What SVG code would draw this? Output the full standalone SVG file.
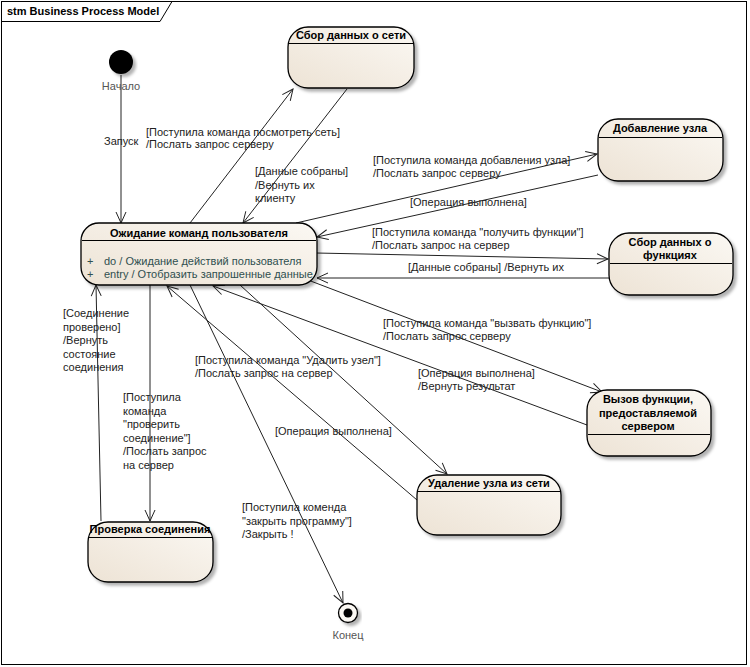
<svg xmlns="http://www.w3.org/2000/svg" width="750" height="667" viewBox="0 0 750 667">
<style>
text{font-family:"Liberation Sans",Arial,sans-serif;font-size:11px;fill:#222}
.t{font-weight:bold;fill:#000;text-anchor:middle}
.lbl{fill:#222}
.attr{fill:#2f4f4f}
.n{fill:url(#g);stroke:#000;stroke-width:1.3;filter:url(#sh)}
.sep{stroke:#000;stroke-width:1}
.c{fill:none;stroke:#222;stroke-width:1;marker-end:url(#a)}
.ps{fill:#555;text-anchor:middle}
</style>
<defs>
<linearGradient id="g" x1="0" y1="1" x2="1" y2="0">
<stop offset="0" stop-color="#EDE3D5"/>
<stop offset="1" stop-color="#FBF8F3"/>
</linearGradient>
<filter id="sh" x="-10%" y="-10%" width="130%" height="140%">
<feDropShadow dx="3" dy="3" stdDeviation="1.5" flood-color="#000" flood-opacity="0.3"/>
</filter>
<marker id="a" markerWidth="14" markerHeight="12" refX="12" refY="6" orient="auto" markerUnits="userSpaceOnUse">
<path d="M1,1 L12,6 L1,11" fill="none" stroke="#222" stroke-width="1"/>
</marker>
</defs>
<rect x="0" y="0" width="750" height="667" fill="#fff"/>
<g id="frame">
<rect x="1.5" y="1.5" width="745" height="663" fill="none" stroke="#000" stroke-width="1"/>
<path d="M1.5,21.5 L160,21.5 L172,1.5" fill="none" stroke="#000" stroke-width="1"/>
<text x="7" y="15" style="font-weight:bold;fill:#000">stm Business Process Model</text>
</g>
<g id="connectors">
<line class="c" x1="121" y1="75" x2="121" y2="223"/>
<line class="c" x1="190" y1="223" x2="293" y2="89"/>
<line class="c" x1="347" y1="89" x2="243" y2="223"/>
<line class="c" x1="296" y1="223" x2="597" y2="154"/>
<line class="c" x1="598" y1="175" x2="317" y2="237"/>
<line class="c" x1="316" y1="253" x2="608" y2="259"/>
<line class="c" x1="609" y1="278" x2="317" y2="278"/>
<line class="c" x1="308" y1="280" x2="602" y2="392"/>
<line class="c" x1="587" y1="425" x2="213" y2="286"/>
<line class="c" x1="240" y1="285" x2="447" y2="474"/>
<line class="c" x1="417" y1="500" x2="167" y2="286"/>
<line class="c" x1="150" y1="285" x2="150" y2="521"/>
<line class="c" x1="101" y1="521" x2="96" y2="285"/>
<line class="c" x1="190" y1="285" x2="343" y2="603"/>
<text x="104" y="145">Запуск</text>
<text x="146" y="136">[Поступила команда посмотреть сеть]</text>
<text x="146" y="148">/Послать запрос серверу</text>
<text x="255" y="175">[Данные собраны]</text>
<text x="255" y="189">/Вернуть их</text>
<text x="255" y="202">клиенту</text>
<text x="373" y="164">[Поступила команда добавления узла]</text>
<text x="373" y="177">/Послать запрос серверу</text>
<text x="410" y="206">[Операция выполнена]</text>
<text x="372" y="236">[Поступила команда "получить функции"]</text>
<text x="372" y="249">/Послать запрос на сервер</text>
<text x="408" y="271">[Данные собраны] /Вернуть их</text>
<text x="383" y="327">[Поступила команда "вызвать функцию"]</text>
<text x="383" y="340">/Послать запрос серверу</text>
<text x="418" y="377">[Операция выполнена]</text>
<text x="418" y="390">/Вернуть результат</text>
<text x="195" y="364">[Поступила команда "Удалить узел"]</text>
<text x="195" y="377">/Послать запрос на сервер</text>
<text x="275" y="435">[Операция выполнена]</text>
<text x="123" y="401">[Поступила</text>
<text x="123" y="414.5">команда</text>
<text x="123" y="428">"проверить</text>
<text x="123" y="441.5">соединение"]</text>
<text x="123" y="455">/Послать запрос</text>
<text x="123" y="468.5">на сервер</text>
<text x="63" y="317">[Соединение</text>
<text x="63" y="330.5">проверено]</text>
<text x="63" y="344">/Вернуть</text>
<text x="63" y="357.5">состояние</text>
<text x="63" y="371">соединения</text>
<text x="242" y="511">[Поступила коменда</text>
<text x="242" y="525">"закрыть программу"]</text>
<text x="242" y="538">/Закрыть !</text>
</g>
<g id="start">
<circle cx="121" cy="62" r="12" fill="#000" filter="url(#sh)"/>
<text class="ps" x="121" y="90">Начало</text>
</g>
<g id="end">
<circle cx="348" cy="613" r="9.5" fill="#FBF8F3" stroke="#000" stroke-width="1.3" filter="url(#sh)"/>
<circle cx="348" cy="613" r="4.5" fill="#000"/>
<text class="ps" x="348" y="639">Конец</text>
</g>
<g id="sbor_seti">
<rect class="n" x="288" y="27" width="126" height="61" rx="20"/>
<line class="sep" x1="289" y1="43.5" x2="413" y2="43.5"/>
<text class="t" x="351" y="39">Сбор данных о сети</text>
</g>
<g id="dobavlenie">
<rect class="n" x="598" y="119" width="125" height="62" rx="20"/>
<line class="sep" x1="599" y1="137.5" x2="722" y2="137.5"/>
<text class="t" x="660" y="132">Добавление узла</text>
</g>
<g id="sbor_funkcii">
<rect class="n" x="609" y="233" width="124" height="62" rx="20"/>
<line class="sep" x1="610" y1="263.5" x2="732" y2="263.5"/>
<text class="t" x="670" y="246">Сбор данных о</text>
<text class="t" x="670" y="259">функциях</text>
</g>
<g id="ozhidanie">
<rect class="n" x="81" y="223" width="236" height="62" rx="18"/>
<line class="sep" x1="82" y1="240.5" x2="316" y2="240.5"/>
<text class="t" x="199" y="237">Ожидание команд пользователя</text>
<text class="attr" x="87" y="265">+</text>
<text class="attr" x="104" y="265">do / Ожидание действий пользователя</text>
<text class="attr" x="87" y="278">+</text>
<text class="attr" x="104" y="278">entry / Отобразить запрошенные данные</text>
</g>
<g id="vyzov">
<rect class="n" x="587" y="390" width="124" height="66" rx="20"/>
<line class="sep" x1="588" y1="434.5" x2="710" y2="434.5"/>
<text class="t" x="648" y="403">Вызов функции,</text>
<text class="t" x="648" y="417">предоставляемой</text>
<text class="t" x="648" y="430">сервером</text>
</g>
<g id="udalenie">
<rect class="n" x="417" y="475" width="144" height="60" rx="20"/>
<line class="sep" x1="418" y1="491.5" x2="560" y2="491.5"/>
<text class="t" x="489" y="487">Удаление узла из сети</text>
</g>
<g id="proverka">
<rect class="n" x="88" y="522" width="125" height="60" rx="20"/>
<line class="sep" x1="89" y1="537.5" x2="212" y2="537.5"/>
<text class="t" x="150" y="533">Проверка соединения</text>
</g>
</svg>
